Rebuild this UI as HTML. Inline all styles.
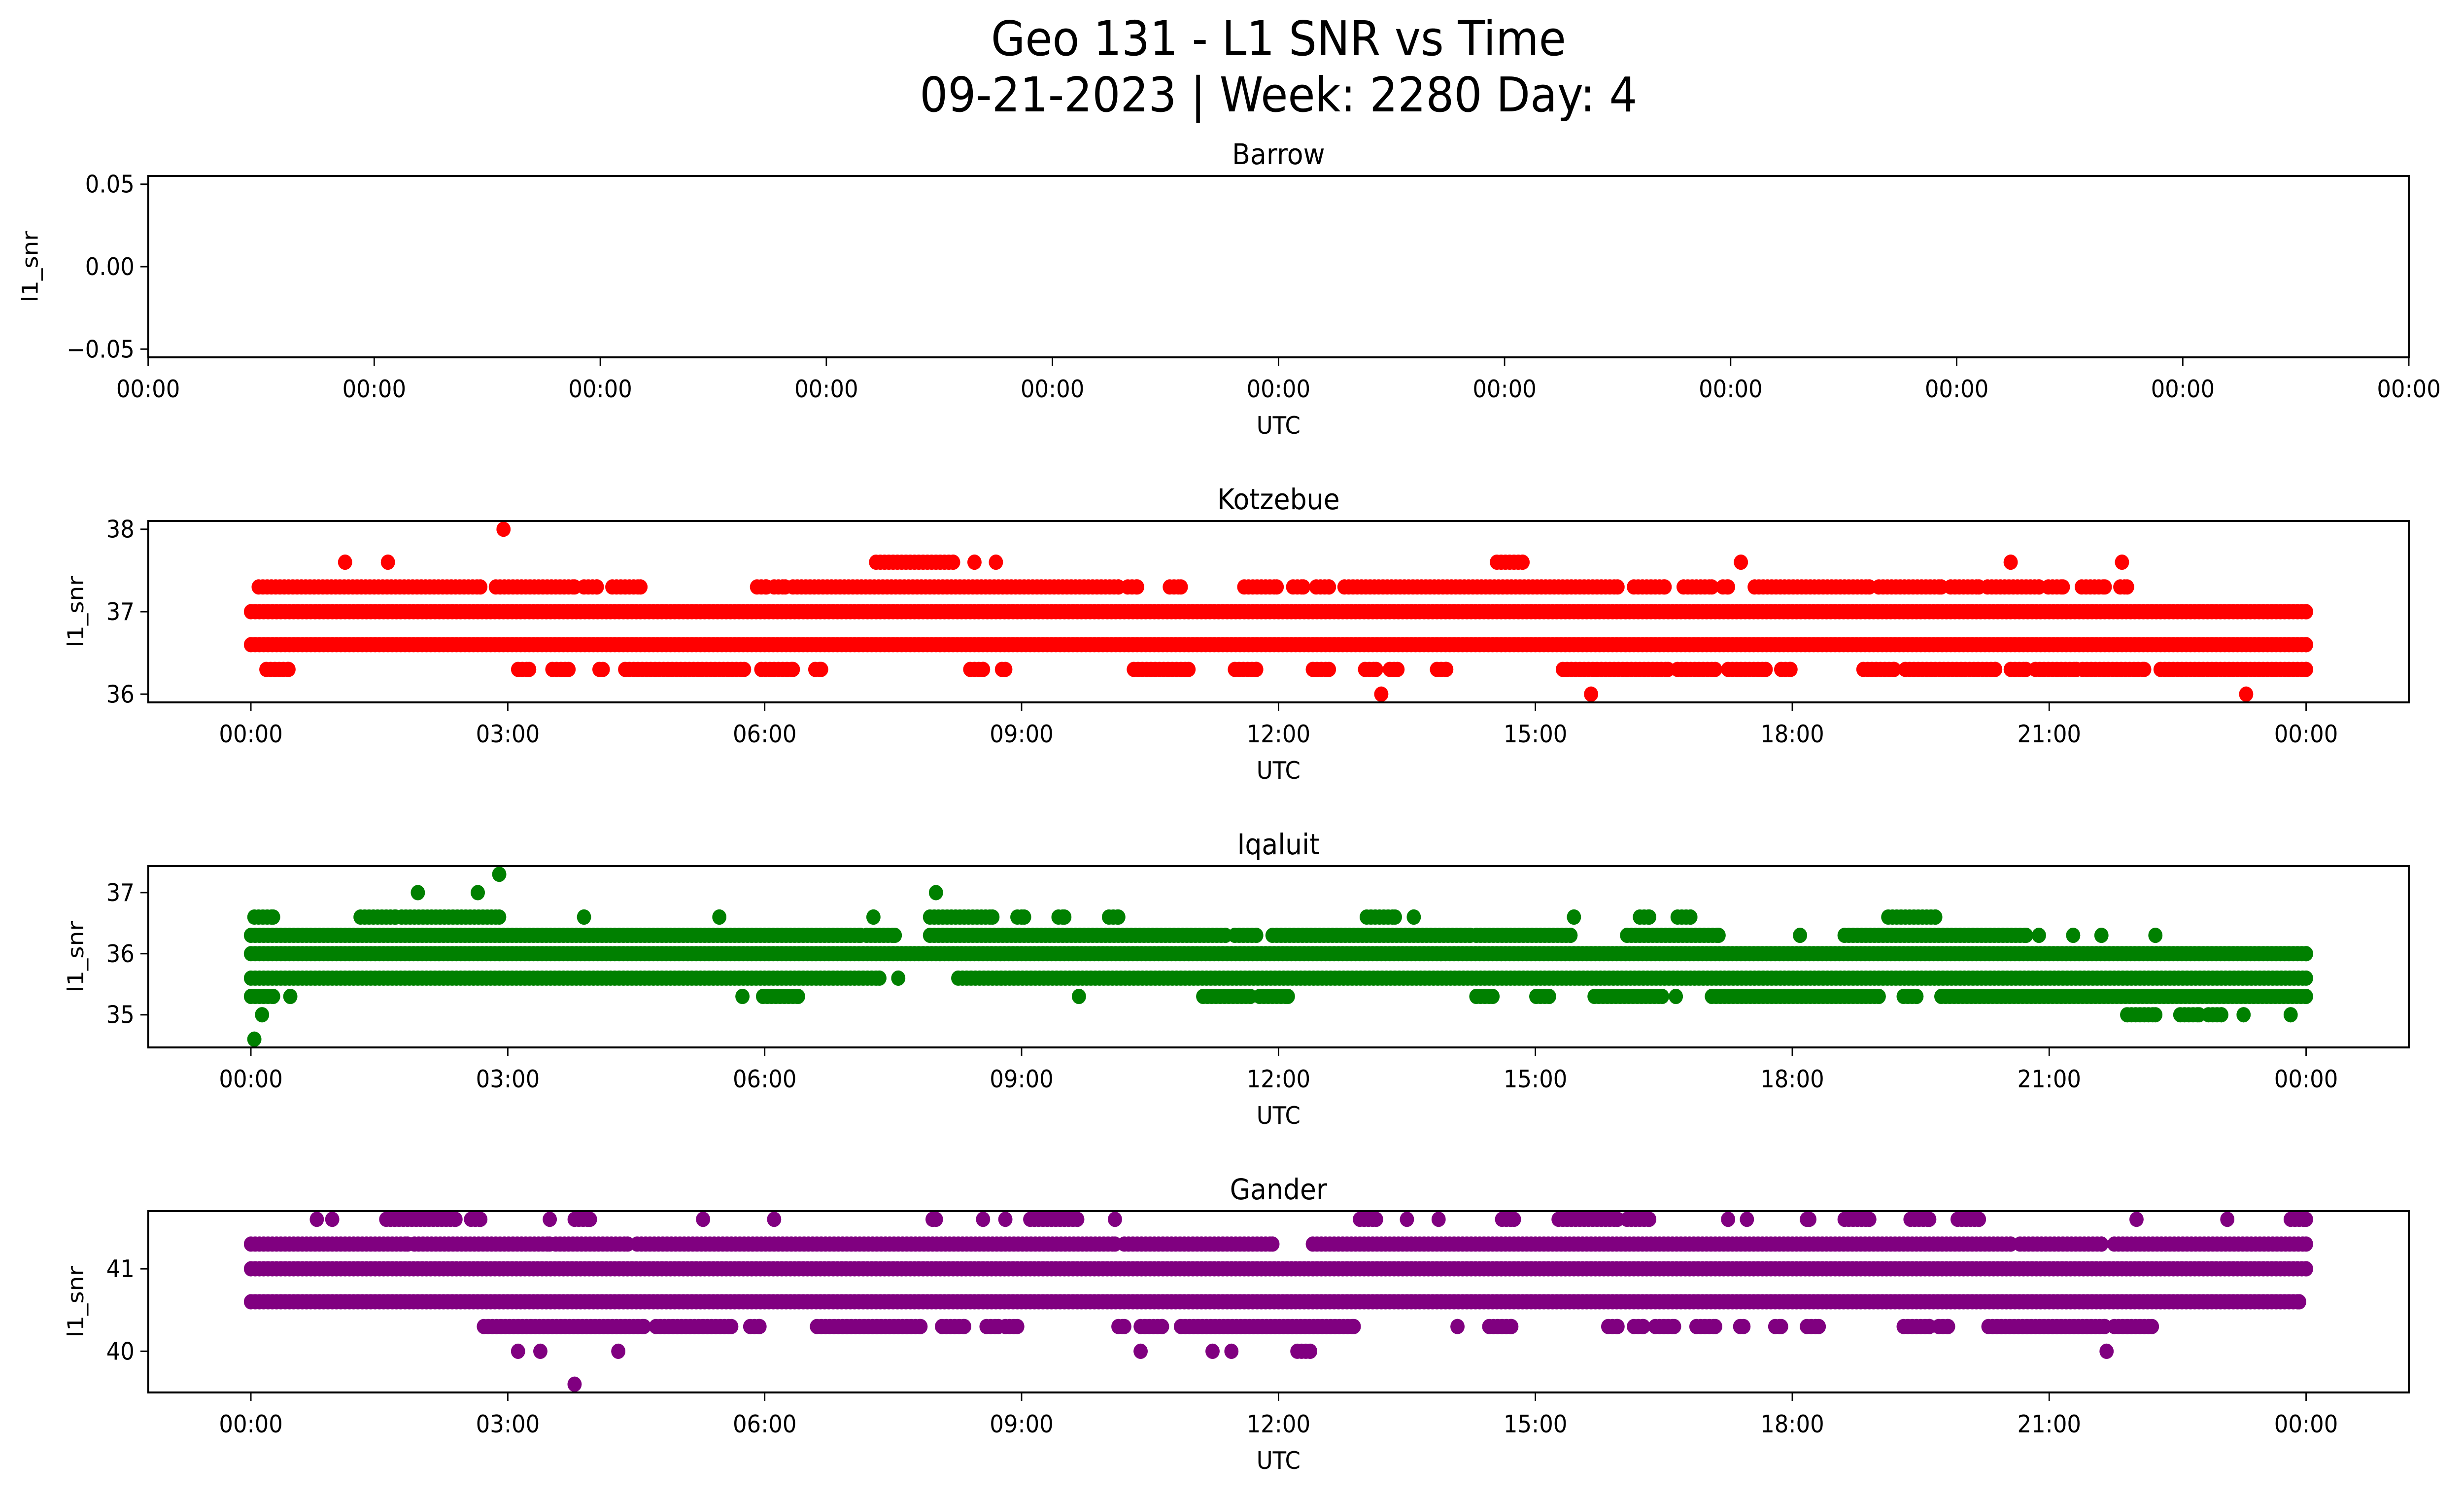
<!DOCTYPE html>
<html><head><meta charset="utf-8">
<style>
html,body{margin:0;padding:0;background:#fff;overflow:hidden;width:100vw;height:100vh;}
svg{display:block;position:absolute;left:0;top:0;width:100vw;height:100vh;}
text{font-family:"DejaVu Sans","Liberation Sans",sans-serif;fill:#000;}
</style></head>
<body>
<svg id="chart" viewBox="0 0 5406 3033" preserveAspectRatio="none" xmlns="http://www.w3.org/2000/svg">
<rect width="5406" height="3033" fill="#fff"/>
<text x="2805" y="112" font-size="97" text-anchor="middle">Geo 131 - L1 SNR vs Time</text>
<text x="2805" y="226" font-size="97" text-anchor="middle">09-21-2023 | Week: 2280 Day: 4</text>
<g id="plots"></g>
</svg>
<script>
// ---- Data (hours of day, SNR levels) ----
const hourTicks = [0, 3, 6, 9, 12, 15, 18, 21, 24];
const hourTickLabels = ["00:00","03:00","06:00","09:00","12:00","15:00","18:00","21:00","00:00"];

const barrowTicks = [-0.05, 0, 0.05];
const barrowTickLabels = ["\u22120.05","0.00","0.05"];
const barrowXLabels = ["00:00","00:00","00:00","00:00","00:00","00:00","00:00","00:00","00:00","00:00","00:00"];

const kotTicks = [36, 37, 38];
const kotLevels = [38, 37.6, 37.3, 37.0, 36.6, 36.3, 36.0];
const kotRuns = [
  [[2.95,2.95]],
  [[1.1,1.1],[1.6,1.6],[7.3,8.2],[8.45,8.45],[8.7,8.7],[14.55,14.85],[17.4,17.4],[20.55,20.55],[21.85,21.85]],
  [[0.09,2.68],[2.86,3.78],[3.89,4.04],[4.22,4.55],[5.91,6.02],[6.11,6.24],[6.33,10.13],[10.24,10.35],[10.73,10.86],[11.6,11.98],[12.17,12.29],[12.44,12.59],[12.77,15.96],[16.15,16.51],[16.73,17.06],[17.19,17.25],[17.56,18.9],[19.01,19.74],[19.85,20.18],[20.28,20.88],[20.99,21.16],[21.38,21.65],[21.83,21.91]],
  [[0,24]],
  [[0,24]],
  [[0.18,0.44],[3.12,3.25],[3.52,3.71],[4.07,4.11],[4.37,5.76],[5.96,6.33],[6.59,6.66],[8.4,8.55],[8.77,8.81],[10.31,10.95],[11.49,11.74],[12.4,12.59],[13.01,13.14],[13.3,13.39],[13.85,13.96],[15.32,16.55],[16.66,17.1],[17.25,17.69],[17.87,17.98],[18.83,19.19],[19.32,20.37],[20.55,20.73],[20.84,21.32],[21.39,22.11],[22.3,24]],
  [[13.2,13.2],[15.65,15.65],[23.3,23.3]]
];

const iqTicks = [35, 36, 37];
const iqLevels = [37.3, 37.0, 36.6, 36.3, 36.0, 35.6, 35.3, 35.0, 34.6];
const iqRuns = [
  [[2.9,2.9]],
  [[1.95,1.95],[2.65,2.65],[8.0,8.0]],
  [[0.04,0.26],[1.28,1.69],[1.76,2.9],[3.89,3.89],[5.47,5.47],[7.27,7.27],[7.93,8.66],[8.95,9.03],[9.43,9.5],[10.02,10.13],[13.03,13.36],[13.58,13.58],[15.45,15.45],[16.22,16.33],[16.66,16.81],[19.12,19.67]],
  [[0,7.12],[7.19,7.52],[7.93,11.38],[11.49,11.74],[11.93,14.24],[14.31,15.41],[16.07,17.14],[18.09,18.09],[18.61,20.73],[20.88,20.88],[21.28,21.28],[21.61,21.61],[22.24,22.24]],
  [[0,24]],
  [[0,7.34],[7.56,7.56],[8.26,24]],
  [[0,0.26],[0.46,0.46],[5.74,5.74],[5.98,6.39],[9.67,9.67],[11.12,11.67],[11.78,12.11],[14.31,14.5],[15.01,15.16],[15.69,16.48],[16.64,16.64],[17.06,19.01],[19.3,19.45],[19.74,24]],
  [[0.13,0.13],[21.91,22.24],[22.53,22.75],[22.86,23.01],[23.27,23.27],[23.82,23.82]],
  [[0.04,0.04]]
];

const ganTicks = [40, 41];
const ganLevels = [41.6, 41.3, 41.0, 40.6, 40.3, 40.0, 39.6];
const ganRuns = [
  [[0.77,0.77],[0.95,0.95],[1.58,2.39],[2.57,2.68],[3.49,3.49],[3.78,3.96],[5.28,5.28],[6.11,6.11],[7.96,8.0],[8.55,8.55],[8.81,8.81],[9.1,9.65],[10.09,10.09],[12.95,13.14],[13.5,13.5],[13.87,13.87],[14.61,14.75],[15.27,15.96],[16.07,16.33],[17.25,17.25],[17.47,17.47],[18.17,18.2],[18.61,18.9],[19.38,19.6],[19.93,20.18],[22.02,22.02],[23.08,23.08],[23.82,24]],
  [[0,1.83],[1.91,3.49],[3.56,4.4],[4.51,10.09],[10.2,11.93],[12.4,20.55],[20.66,21.61],[21.76,24]],
  [[0,24]],
  [[0,23.92]],
  [[2.72,4.59],[4.73,5.61],[5.83,5.94],[6.61,7.82],[8.07,8.33],[8.59,8.73],[8.81,8.95],[10.13,10.2],[10.39,10.64],[10.86,12.88],[14.09,14.09],[14.46,14.72],[15.85,15.96],[16.15,16.26],[16.4,16.62],[16.88,17.1],[17.39,17.43],[17.8,17.87],[18.17,18.31],[19.3,19.6],[19.71,19.82],[20.29,21.65],[21.76,22.2]],
  [[3.12,3.12],[3.38,3.38],[4.29,4.29],[10.39,10.39],[11.23,11.23],[11.45,11.45],[12.22,12.37],[21.67,21.67]],
  [[3.78,3.78]]
];

const panels = [
  {name:"barrow", title:"Barrow", top:357, ymin:-0.055, ymax:0.055, ticks:barrowTicks, tickLabels:barrowTickLabels, levels:[], runs:[], color:"#1f77b4", ylabelX:67},
  {name:"kotzebue", title:"Kotzebue", top:1057, ymin:35.9, ymax:38.1, ticks:kotTicks, tickLabels:kotTicks.map(String), levels:kotLevels, runs:kotRuns, color:"#ff0000", ylabelX:167},
  {name:"iqaluit", title:"Iqaluit", top:1757, ymin:34.465, ymax:37.435, ticks:iqTicks, tickLabels:iqTicks.map(String), levels:iqLevels, runs:iqRuns, color:"#008000", ylabelX:167},
  {name:"gander", title:"Gander", top:2457, ymin:39.5, ymax:41.7, ticks:ganTicks, tickLabels:ganTicks.map(String), levels:ganLevels, runs:ganRuns, color:"#800080", ylabelX:167}
];

const NS = "http://www.w3.org/2000/svg";
const L = 325, R = 5285, H = 368;
const XMIN = -1.2, XMAX = 25.2;
const root = document.getElementById("plots");
function mk(tag, attrs, parent){ const e=document.createElementNS(NS,tag); for(const k in attrs) e.setAttribute(k,attrs[k]); parent.appendChild(e); return e; }
function xScale(h){ return L + (h - XMIN) / (XMAX - XMIN) * (R - L); }

panels.forEach(p => {
  const g = mk("g", {}, root);
  
  
  const top = p.top, bot = top + H;
  const yScale = v => bot - (v - p.ymin) / (p.ymax - p.ymin) * H;

  const pts = mk("g", {fill:p.color}, g);
  
  
  p.levels.forEach((lv, i) => {
    const cy = yScale(lv);
    p.runs[i].forEach(run => {
      for (let h = run[0]; h <= run[1] + 1e-9; h += 0.05) {
        const c = mk("circle", {cx:xScale(h).toFixed(1), cy:cy.toFixed(1), r:15.5}, pts);
        
        
      }
      const last = mk("circle", {cx:xScale(run[1]).toFixed(1), cy:cy.toFixed(1), r:15.5}, pts);
      
      
    });
  });

  const fr = mk("rect", {x:L, y:top, width:R-L, height:H, fill:"none", stroke:"#000", "stroke-width":4}, g);
  
  

  const t = mk("text", {x:(L+R)/2, y:top-24, "font-size":58, "text-anchor":"middle"}, g);
  t.textContent = p.title;
  
  

  p.ticks.forEach((tv, i) => {
    const y = yScale(tv);
    const tk = mk("line", {x1:L-17, x2:L, y1:y, y2:y, stroke:"#000", "stroke-width":3}, g);
    
    
    const tl = mk("text", {x:L-30, y:y+17, "font-size":48.6, "text-anchor":"end"}, g);
    tl.textContent = p.tickLabels[i];
    
    
  });

  let xs, xl;
  if (p.name === "barrow") {
    xs = barrowXLabels.map((_, i) => L + i * (R - L) / (barrowXLabels.length - 1));
    xl = barrowXLabels;
  } else {
    xs = hourTicks.map(xScale);
    xl = hourTickLabels;
  }
  xs.forEach((x, i) => {
    const tk = mk("line", {x1:x, x2:x, y1:bot, y2:bot+17, stroke:"#000", "stroke-width":3}, g);
    
    
    const tl = mk("text", {x:x, y:bot+81, "font-size":48.6, "text-anchor":"middle"}, g);
    tl.textContent = xl[i];
    
    
  });

  const xlab = mk("text", {x:(L+R)/2, y:bot+155, "font-size":48.6, "text-anchor":"middle"}, g);
  xlab.textContent = "UTC";
  
  
  const cy = top + H/2;
  const ylab = mk("text", {x:p.ylabelX, y:cy, "font-size":48.6, "text-anchor":"middle", "dominant-baseline":"central", transform:`rotate(-90 ${p.ylabelX} ${cy})`}, g);
  ylab.textContent = "l1_snr";
  
  
});
</script>
</body></html>
